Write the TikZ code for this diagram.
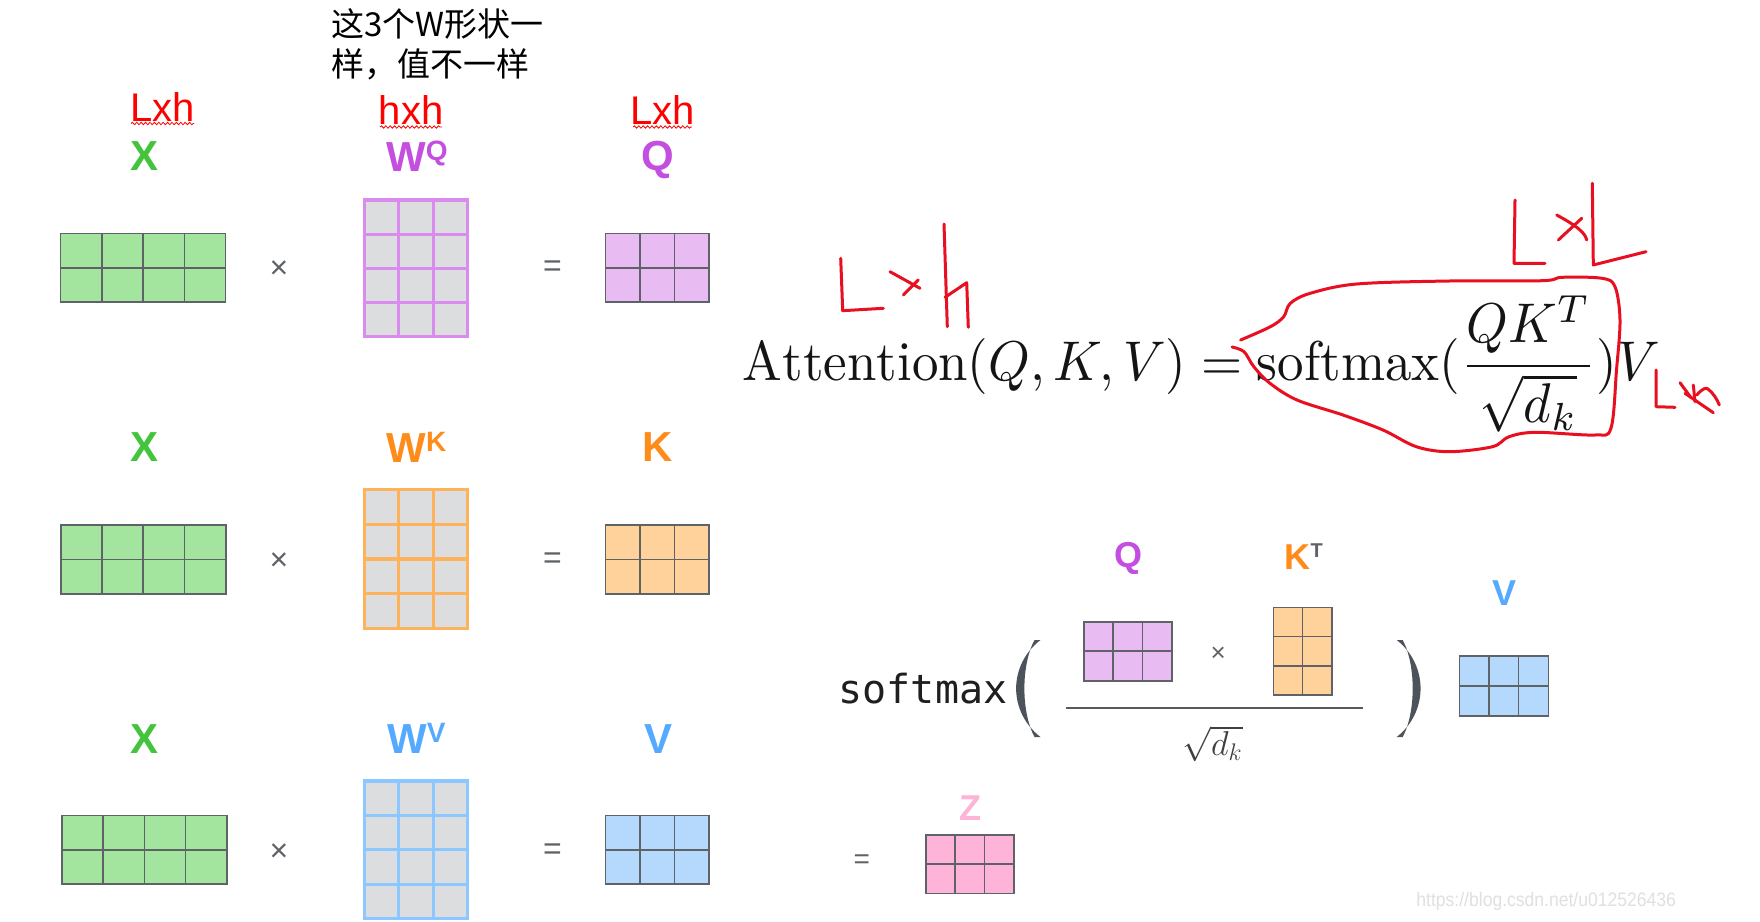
\documentclass[tikz,border=0pt]{standalone}
\usepackage{fontspec}
\usepackage{graphicx}
\usetikzlibrary{decorations.pathmorphing}
\newfontfamily\labfont{Liberation Sans}
\newfontfamily\cjkfont{Noto Sans CJK SC}
\newfontfamily\monofont{DejaVu Sans Mono}
\definecolor{matgray}{RGB}{95,99,104}
\definecolor{mgreen}{RGB}{163,228,159}
\definecolor{cellgray}{RGB}{220,221,223}
\definecolor{violetb}{RGB}{218,140,238}
\definecolor{qfill}{RGB}{232,187,243}
\definecolor{purplel}{RGB}{196,78,224}
\definecolor{orangeb}{RGB}{255,178,92}
\definecolor{kfill}{RGB}{254,210,154}
\definecolor{orangel}{RGB}{255,140,26}
\definecolor{blueb}{RGB}{140,200,255}
\definecolor{vfill}{RGB}{180,217,252}
\definecolor{bluel}{RGB}{85,170,255}
\definecolor{zfill}{RGB}{254,180,217}
\definecolor{pinkl}{RGB}{253,180,215}
\definecolor{greenl}{RGB}{68,196,60}
\definecolor{handred}{RGB}{232,16,32}
\definecolor{redtxt}{RGB}{255,0,0}
\definecolor{parcol}{RGB}{77,83,90}
\newcommand{\gridmat}[7]{%
  \pgfmathtruncatemacro\gmcols{#5-1}%
  \pgfmathtruncatemacro\gmrows{#6-1}%
  \path[#7] (#1,#2) rectangle (#3,#4);
  \foreach \i in {1,...,\gmcols}{\draw[#7,fill=none] ({#1+(#3-#1)*\i/#5},#2) -- ({#1+(#3-#1)*\i/#5},#4);}
  \foreach \j in {1,...,\gmrows}{\draw[#7,fill=none] (#1,{#2+(#4-#2)*\j/#6}) -- (#3,{#2+(#4-#2)*\j/#6});}
  \draw[#7,fill=none] (#1,#2) rectangle (#3,#4);
}
\tikzset{
  plainmat/.style={draw=matgray, line width=0.8pt},
  wmat/.style={fill=cellgray, line width=1.6pt},
  lab/.style={inner sep=0, anchor=base, font={\labfont\bfseries\fontsize{21pt}{21pt}\selectfont}},
  slab/.style={inner sep=0, anchor=base, font={\labfont\bfseries\fontsize{18pt}{18pt}\selectfont}},
  redlab/.style={inner sep=0, anchor=base, text=redtxt, font={\labfont\fontsize{20pt}{20pt}\selectfont}},
  wavy/.style={draw=redtxt, line width=0.4pt, decorate, decoration={snake, amplitude=0.6pt, segment length=2.2pt}},
  cn/.style={inner sep=0, anchor=base west, font={\cjkfont\fontsize{16.5pt}{16.5pt}\selectfont}},
  op/.style={inner sep=0, text=matgray, font={\labfont\fontsize{16pt}{16pt}\selectfont}},
  hand/.style={draw=handred, line width=1.5pt, line cap=round, line join=round},
}
\begin{document}
\begin{tikzpicture}[x=0.5pt,y=-0.5pt]
\fill[white] (0,0) rectangle (1760,921);
\useasboundingbox (0,0) rectangle (1760,921);

% Chinese note
\node[cn] (cn1) at (331,36) {这3个W形状一};
\node[cn] (cn2) at (331,76.3) {样，值不一样};

% red size labels
\node[redlab] (d1) at (162.5,121) {Lxh};
\node[redlab] (d2) at (411,124.5) {hxh};
\node[redlab] (d3) at (662.5,124.5) {Lxh};
\draw[wavy] (131,123.5) -- (194,123.5);
\draw[wavy] (380,127) -- (442,127);
\draw[wavy] (633,127) -- (692,127);

% row labels
\node[lab,text=greenl] (lx1) at (144.5,170) {X};
\node[lab,text=purplel] (lwq) at (417,171.5) {W\raisebox{5.4pt}{\fontsize{14pt}{14pt}\selectfont Q}};
\node[lab,text=purplel] (lq) at (658,170) {Q};
\node[lab,text=greenl] (lx2) at (144.5,461.7) {X};
\node[lab,text=orangel] (lwk) at (416.5,462) {W\raisebox{5.4pt}{\fontsize{14pt}{14pt}\selectfont K}};
\node[lab,text=orangel] (lk) at (658,461.7) {K};
\node[lab,text=greenl] (lx3) at (144.5,753) {X};
\node[lab,text=bluel] (lwv) at (416.5,753) {W\raisebox{5.4pt}{\fontsize{14pt}{14pt}\selectfont V}};
\node[lab,text=bluel] (lv) at (658,753) {V};

% row 1
\gridmat{60.6}{233.5}{225.6}{302}{4}{2}{plainmat,fill=mgreen}
\gridmat{364.3}{200}{467.7}{336.5}{3}{4}{wmat,draw=violetb}
\gridmat{605.5}{233.5}{709}{302}{3}{2}{plainmat,fill=qfill}
\node[op] (t1) at (279,269.5) {×};
\node[op] (e1) at (552.5,269) {=};

% row 2
\gridmat{60.7}{525}{225.7}{594}{4}{2}{plainmat,fill=mgreen}
\gridmat{364.3}{489.5}{467.7}{628.5}{3}{4}{wmat,draw=orangeb}
\gridmat{605.5}{525}{709}{594}{3}{2}{plainmat,fill=kfill}
\node[op] (t2) at (279,561.7) {×};
\node[op] (e2) at (552.5,561) {=};

% row 3
\gridmat{62}{815.5}{226.7}{884}{4}{2}{plainmat,fill=mgreen}
\gridmat{364.3}{781}{467.7}{918.5}{3}{4}{wmat,draw=blueb}
\gridmat{605.5}{815.5}{709}{884}{3}{2}{plainmat,fill=vfill}
\node[op] (t3) at (279,852.3) {×};
\node[op] (e3) at (552.5,852) {=};

% attention formula
\node[inner sep=0, anchor=north west, text=black!92] (attn) at (742.5,295)
  {\resizebox*{458.5pt}{68.5pt}{$\displaystyle\mathrm{Attention}(Q,K,V)=\mathrm{softmax}(\frac{QK^T}{\sqrt{d_k}})V$}};

% handwriting
\draw[hand] (840.7,258.3) -- (842.7,310.7) -- (883.3,308.3);
\draw[hand] (890,271.7) -- (920,288.3);
\draw[hand] (918.3,280) -- (903.3,295);
\draw[hand] (944,224) -- (947.3,326.7);
\draw[hand] (945,297.3) -- (966.7,282.7) -- (968.3,327.3);

\draw[hand] (1515,200) -- (1514,263.3) -- (1545,263.3);
\draw[hand] (1556.7,215) .. controls (1575,225) and (1585,232) .. (1586.7,240);
\draw[hand] (1581.7,218.3) -- (1558.3,240);
\draw[hand] (1592.3,183.3) -- (1593.3,265) -- (1646,251.7);

\draw[hand] plot[smooth, tension=0.55] coordinates {
 (1240.6,340) (1270.4,326.7) (1283.7,316.7) (1290.3,303.3) (1310.2,293.3)
 (1356.6,284) (1449.4,281) (1542.3,280.7) (1562,277.3) (1602,278.3)
 (1615,286.7) (1620,320) (1616.5,370) (1611,428) (1595,435)
 (1535.6,432.3) (1509,436.7) (1492.5,446.7) (1449.4,451.7) (1416.3,446.7)
 (1383,430) (1343,415) (1297,400) (1270,383.3) (1253.8,366.7) (1244,351.7) (1232,347)};

\draw[hand] (1656,370) -- (1656,406.7) -- (1675,407.3);
\draw[hand] (1680,382.7) -- (1690.7,397.3);
\draw[hand] (1693.3,385) -- (1695,401.7);
\draw[hand] (1685,393.3) -- (1713.3,412.7);
\draw[hand] (1696.7,395) .. controls (1702,389) and (1706,387) .. (1708,389) .. controls (1713,393) and (1717,399) .. (1719.3,405);

% softmax panel
\node[inner sep=0, anchor=base, text=black!88, font={\monofont\fontsize{20pt}{20pt}\selectfont}] (sm) at (923,703.3) {softmax};
\fill[parcol] (1040.5,640) .. controls (1008,665) and (1008,712) .. (1040.5,737) -- (1034.5,737) .. controls (1021,712) and (1021,665) .. (1034.5,640) -- cycle;
\fill[parcol] (1396.7,640) .. controls (1428.5,665) and (1428.5,712) .. (1396.7,737) -- (1402.7,737) .. controls (1416,712) and (1416,665) .. (1402.7,640) -- cycle;
\node[slab,text=purplel] (sq) at (1128.4,567) {Q};
\node[slab,text=orangel] (skt) at (1303.6,569) {K\raisebox{5.75pt}{\fontsize{10pt}{10pt}\selectfont\color{matgray}T}};
\node[slab,text=bluel] (sv) at (1504,605) {V};
\node[slab,text=pinkl] (sz) at (970,820) {Z};
\gridmat{1084}{621.7}{1171.7}{680.7}{3}{2}{plainmat,fill=qfill}
\gridmat{1273.3}{607.3}{1331.7}{695}{2}{3}{plainmat,fill=kfill}
\gridmat{1459.3}{656}{1548.3}{715.7}{3}{2}{plainmat,fill=vfill}
\gridmat{925.7}{835}{1014}{893.3}{3}{2}{plainmat,fill=zfill}
\node[op, font={\labfont\fontsize{13pt}{13pt}\selectfont}] (t4) at (1218.3,654) {×};
\draw[draw=black!65, line width=1pt] (1066,708.3) -- (1362.7,708.3);
\node[inner sep=0, text=black!75, font={\fontsize{17.5pt}{17.5pt}\selectfont}] (sd) at (1212.5,744) {$\sqrt{d_k}$};
\node[op, font={\labfont\fontsize{14pt}{14pt}\selectfont}] (e4) at (861.7,861.7) {=};

% watermark
\node[inner sep=0, anchor=base west, text=black!12, font={\labfont\fontsize{9.75pt}{9.75pt}\selectfont}] (wm) at (1416,906.5) {\scalebox{0.9}[1]{https://blog.csdn.net/u012526436}};
\end{tikzpicture}
\end{document}
